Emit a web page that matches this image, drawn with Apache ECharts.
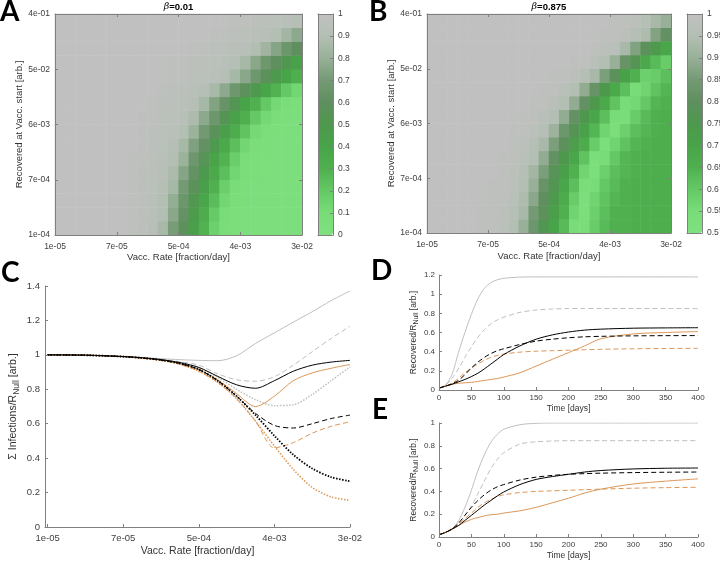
<!DOCTYPE html>
<html>
<head>
<meta charset="utf-8">
<script src="https://cdn.jsdelivr.net/npm/echarts@6/dist/echarts.min.js"></script>
<style>
  html, body { margin: 0; background: #fff; }
  #main { width: 720px; height: 562px; }
</style>
</head>
<body>
<div id="main"></div>
<script>
// tick labels
var rateTicks = ['1e-05', '7e-05', '5e-04', '4e-03', '3e-02']
var recTicks = ['1e-04', '7e-04', '6e-03', '5e-02', '4e-01']

// panel A (beta=0.01), rows from bottom (1e-04) to top (4e-01), 24 columns left->right
var heatA = [
  [1,1,1,1,1,0.99,0.99,0.98,0.96,0.93,0.86,0.71,0.58,0.43,0.29,0.16,0.08,0.06,0.05,0.05,0.05,0.05,0.05,0.05],
  [1,1,1,1,1,0.99,0.99,0.98,0.96,0.94,0.89,0.76,0.63,0.47,0.33,0.19,0.1,0.06,0.05,0.05,0.05,0.05,0.05,0.05],
  [1,1,1,1,1,0.99,0.99,0.98,0.97,0.94,0.9,0.79,0.66,0.52,0.38,0.25,0.13,0.08,0.06,0.05,0.05,0.05,0.05,0.05],
  [1,1,1,1,1,0.99,0.99,0.98,0.97,0.95,0.92,0.85,0.7,0.58,0.43,0.3,0.17,0.09,0.06,0.05,0.05,0.05,0.05,0.05],
  [1,1,1,1,1,0.99,0.99,0.98,0.97,0.96,0.93,0.87,0.75,0.63,0.49,0.36,0.24,0.13,0.08,0.06,0.05,0.05,0.05,0.05],
  [1,1,1,1,1,0.99,0.99,0.98,0.98,0.96,0.94,0.9,0.81,0.67,0.55,0.41,0.29,0.17,0.09,0.06,0.05,0.05,0.05,0.05],
  [1,1,1,1,1,0.99,0.99,0.99,0.98,0.97,0.95,0.92,0.85,0.73,0.62,0.49,0.36,0.24,0.13,0.08,0.06,0.05,0.05,0.05],
  [1,1,1,1,1,0.99,0.99,0.99,0.98,0.97,0.96,0.94,0.9,0.81,0.69,0.58,0.45,0.33,0.22,0.12,0.08,0.06,0.05,0.05],
  [1,1,1,1,1,1,0.99,0.99,0.98,0.98,0.97,0.95,0.93,0.87,0.77,0.66,0.54,0.42,0.31,0.2,0.12,0.08,0.06,0.05],
  [1,1,1,1,1,1,0.99,0.99,0.99,0.98,0.97,0.96,0.94,0.92,0.85,0.74,0.64,0.53,0.41,0.3,0.2,0.12,0.08,0.06],
  [1,1,1,1,1,1,1,0.99,0.99,0.99,0.98,0.97,0.96,0.94,0.92,0.86,0.77,0.67,0.58,0.49,0.39,0.29,0.2,0.13],
  [1,1,1,1,1,1,1,1,0.99,0.99,0.99,0.98,0.98,0.97,0.95,0.94,0.91,0.85,0.76,0.67,0.58,0.49,0.4,0.31],
  [1,1,1,1,1,1,1,1,1,0.99,0.99,0.98,0.98,0.97,0.96,0.95,0.94,0.91,0.85,0.76,0.67,0.6,0.51,0.42],
  [1,1,1,1,1,1,1,1,1,1,0.99,0.99,0.99,0.98,0.98,0.97,0.96,0.94,0.93,0.89,0.83,0.75,0.66,0.6],
  [1,1,1,1,1,1,1,1,1,1,1,1,1,0.99,0.99,0.98,0.98,0.97,0.96,0.94,0.93,0.9,0.84,0.77],
  [1,1,1,1,1,1,1,1,1,1,1,1,1,1,1,0.99,0.99,0.98,0.98,0.97,0.96,0.95,0.94,0.91]
]

// panel B (beta=0.875)
var heatB = [
  [1,1,1,1,1,0.99,0.99,0.98,0.95,0.9,0.83,0.76,0.7,0.63,0.55,0.54,0.59,0.63,0.65,0.65,0.66,0.66,0.66,0.66],
  [1,1,1,1,1,0.99,0.99,0.98,0.96,0.93,0.85,0.79,0.72,0.65,0.57,0.53,0.58,0.62,0.65,0.65,0.66,0.66,0.66,0.66],
  [1,1,1,1,1,1,0.99,0.99,0.97,0.94,0.88,0.8,0.74,0.67,0.59,0.52,0.57,0.61,0.64,0.65,0.66,0.66,0.66,0.66],
  [1,1,1,1,1,1,0.99,0.99,0.98,0.95,0.9,0.82,0.76,0.69,0.62,0.54,0.55,0.6,0.63,0.65,0.66,0.66,0.66,0.66],
  [1,1,1,1,1,1,1,0.99,0.98,0.96,0.92,0.86,0.78,0.72,0.65,0.57,0.52,0.58,0.62,0.64,0.65,0.66,0.66,0.66],
  [1,1,1,1,1,1,1,0.99,0.99,0.97,0.95,0.89,0.81,0.75,0.69,0.61,0.53,0.55,0.6,0.64,0.65,0.66,0.66,0.66],
  [1,1,1,1,1,1,1,1,0.99,0.98,0.96,0.93,0.86,0.79,0.73,0.67,0.59,0.52,0.57,0.61,0.64,0.65,0.66,0.66],
  [1,1,1,1,1,1,1,1,0.99,0.99,0.98,0.96,0.91,0.83,0.77,0.71,0.64,0.57,0.53,0.58,0.62,0.64,0.65,0.66],
  [1,1,1,1,1,1,1,1,1,0.99,0.99,0.97,0.95,0.89,0.81,0.75,0.69,0.62,0.55,0.54,0.59,0.63,0.65,0.66],
  [1,1,1,1,1,1,1,1,1,1,0.99,0.99,0.97,0.95,0.89,0.81,0.75,0.68,0.61,0.55,0.56,0.6,0.64,0.65],
  [1,1,1,1,1,1,1,1,1,1,1,0.99,0.99,0.97,0.95,0.89,0.82,0.75,0.68,0.62,0.55,0.57,0.61,0.64],
  [1,1,1,1,1,1,1,1,1,1,1,1,0.99,0.99,0.98,0.96,0.93,0.86,0.79,0.71,0.65,0.58,0.59,0.62],
  [1,1,1,1,1,1,1,1,1,1,1,1,1,1,0.99,0.99,0.97,0.95,0.9,0.82,0.77,0.68,0.63,0.59],
  [1,1,1,1,1,1,1,1,1,1,1,1,1,1,1,1,0.99,0.98,0.97,0.93,0.87,0.79,0.74,0.69],
  [1,1,1,1,1,1,1,1,1,1,1,1,1,1,1,1,1,0.99,0.99,0.98,0.96,0.94,0.87,0.81],
  [1,1,1,1,1,1,1,1,1,1,1,1,1,1,1,1,1,1,0.99,0.99,0.98,0.96,0.93,0.9]
]

// panel C, x in tick units (0 = 1e-05 ... 4 = 3e-02)
var cX = [0, 0.5, 1, 1.25, 1.5, 1.75, 2, 2.25, 2.5, 2.75, 3, 3.25, 3.5, 3.75, 4]
var cGraySolid = [1, 0.998, 0.99, 0.985, 0.978, 0.972, 0.968, 0.966, 0.995, 1.066, 1.128, 1.19, 1.25, 1.315, 1.371]
var cGrayDash = [1, 0.998, 0.99, 0.984, 0.975, 0.96, 0.94, 0.89, 0.855, 0.847, 0.873, 0.94, 1.018, 1.095, 1.167]
var cGrayDot = [1, 0.998, 0.99, 0.983, 0.972, 0.955, 0.925, 0.87, 0.8, 0.74, 0.705, 0.71, 0.77, 0.85, 0.93]
var cBlackSolid = [1, 0.998, 0.99, 0.983, 0.972, 0.955, 0.927, 0.875, 0.826, 0.806, 0.85, 0.905, 0.94, 0.958, 0.968]
var cBlackDash = [1, 0.998, 0.99, 0.982, 0.97, 0.95, 0.915, 0.85, 0.76, 0.66, 0.59, 0.575, 0.6, 0.63, 0.65]
var cBlackDot = [1, 0.998, 0.99, 0.982, 0.97, 0.95, 0.915, 0.85, 0.76, 0.65, 0.53, 0.42, 0.34, 0.29, 0.266]
var cOrangeSolid = [1, 0.998, 0.99, 0.982, 0.97, 0.95, 0.915, 0.855, 0.775, 0.7, 0.76, 0.85, 0.895, 0.922, 0.944]
var cOrangeDash = [1, 0.998, 0.99, 0.98, 0.968, 0.945, 0.905, 0.84, 0.745, 0.615, 0.46, 0.49, 0.545, 0.585, 0.611]
var cOrangeDot = [1, 0.998, 0.99, 0.98, 0.968, 0.945, 0.905, 0.84, 0.745, 0.615, 0.47, 0.335, 0.23, 0.175, 0.155]

// panels D and E, time in days
var tDays = [0, 10, 20, 30, 40, 50, 60, 70, 80, 90, 100, 125, 150, 175, 200, 225, 250, 300, 350, 400]
var dGraySolid = [0.02, 0.05, 0.16, 0.39, 0.6, 0.79, 0.95, 1.06, 1.12, 1.15, 1.165, 1.178, 1.18, 1.18, 1.18, 1.18, 1.18, 1.18, 1.18, 1.18]
var dGrayDash = [0.02, 0.05, 0.12, 0.22, 0.34, 0.45, 0.55, 0.63, 0.69, 0.73, 0.76, 0.81, 0.835, 0.845, 0.85, 0.85, 0.85, 0.85, 0.85, 0.85]
var dBlackSolid = [0.02, 0.04, 0.06, 0.085, 0.11, 0.14, 0.175, 0.22, 0.27, 0.32, 0.37, 0.46, 0.53, 0.575, 0.605, 0.625, 0.635, 0.645, 0.648, 0.65]
var dBlackDash = [0.02, 0.04, 0.065, 0.1, 0.16, 0.23, 0.29, 0.34, 0.38, 0.41, 0.43, 0.475, 0.51, 0.53, 0.545, 0.555, 0.56, 0.565, 0.567, 0.568]
var dOrangeSolid = [0.02, 0.04, 0.06, 0.07, 0.075, 0.08, 0.09, 0.1, 0.11, 0.12, 0.135, 0.18, 0.25, 0.32, 0.39, 0.46, 0.535, 0.585, 0.6, 0.61]
var dOrangeDash = [0.02, 0.04, 0.07, 0.12, 0.18, 0.23, 0.27, 0.31, 0.34, 0.36, 0.375, 0.395, 0.405, 0.41, 0.415, 0.42, 0.425, 0.43, 0.433, 0.435]
var eGraySolid = [0.02, 0.04, 0.07, 0.14, 0.26, 0.41, 0.58, 0.72, 0.83, 0.9, 0.945, 0.985, 0.997, 1, 1, 1, 1, 1, 1, 1]
var eGrayDash = [0.02, 0.04, 0.07, 0.12, 0.19, 0.27, 0.38, 0.49, 0.6, 0.68, 0.74, 0.815, 0.835, 0.842, 0.845, 0.845, 0.845, 0.845, 0.845, 0.845]
var eBlackSolid = [0.02, 0.04, 0.07, 0.1, 0.145, 0.19, 0.235, 0.28, 0.32, 0.36, 0.395, 0.46, 0.505, 0.53, 0.55, 0.57, 0.583, 0.597, 0.603, 0.605]
var eBlackDash = [0.02, 0.04, 0.07, 0.12, 0.19, 0.26, 0.32, 0.37, 0.41, 0.44, 0.46, 0.5, 0.525, 0.54, 0.55, 0.556, 0.56, 0.565, 0.568, 0.57]
var eOrangeSolid = [0.02, 0.04, 0.065, 0.1, 0.13, 0.155, 0.17, 0.185, 0.195, 0.2, 0.21, 0.23, 0.26, 0.3, 0.34, 0.385, 0.42, 0.465, 0.49, 0.51]
var eOrangeDash = [0.02, 0.04, 0.07, 0.11, 0.16, 0.21, 0.26, 0.3, 0.33, 0.355, 0.37, 0.39, 0.4, 0.405, 0.41, 0.415, 0.42, 0.428, 0.433, 0.436]

var FONT = 'Liberation Sans'
var axisGrey = '#808080'
var tickText = '#404040'
var gray = '#bfbfbf'
var orange = '#dc9656'
var cmap = ['#80e080', '#78dc78', '#64c864', '#50b050', '#48a448', '#4e984e', '#5f8f5f', '#749a74', '#98b098', '#b4bfb4', '#c0c0c0']

function merge (a, b) {
  for (var k in b) {
    if (b[k] && typeof b[k] === 'object' && !Array.isArray(b[k]) && a[k] && typeof a[k] === 'object') merge(a[k], b[k])
    else a[k] = b[k]
  }
  return a
}

function axis (gi, o) {
  return merge({
    type: 'value',
    gridIndex: gi,
    z: 5,
    axisLine: { show: true, onZero: false, lineStyle: { color: axisGrey, width: 1 } },
    axisTick: { show: true, inside: true, length: 3, lineStyle: { color: axisGrey } },
    axisLabel: { show: true, color: tickText, fontFamily: FONT, fontSize: 8.5, margin: 5 },
    splitLine: { show: false },
    nameTextStyle: { color: '#333', fontFamily: FONT, fontSize: 9.5 }
  }, o || {})
}

function heatData (rows) {
  var out = []
  rows.forEach(function (row, j) {
    row.forEach(function (v, i) { out.push([i, j, v]) })
  })
  return out
}

function line (ai, xs, ys, color, dash, width) {
  return {
    type: 'line',
    xAxisIndex: ai,
    yAxisIndex: ai,
    data: xs.map(function (x, i) { return [x, ys[i]] }),
    symbol: 'none',
    smooth: 0.3,
    silent: true,
    lineStyle: { color: color, width: width || 1, type: dash || 'solid' }
  }
}

var colIdx = heatA[0].map(function (_, i) { return i })
var rowIdx = heatA.map(function (_, j) { return j })

var rectA = { left: 55, top: 14, width: 247, height: 221 }
var rectAc = { left: 318, top: 14, width: 15, height: 221 }
var rectB = { left: 427, top: 14, width: 244, height: 219 }
var rectBc = { left: 687, top: 14, width: 15, height: 219 }
var rectC = { left: 45, top: 286, width: 305, height: 241 }
var rectD = { left: 439, top: 275, width: 259, height: 115 }
var rectE = { left: 439, top: 423, width: 259, height: 114 }

function grid (r) {
  return merge({ containLabel: false, outerBoundsMode: 'none', show: false }, r)
}

var DASH = [5, 3]
var DOT = [1.5, 1.5]

function yName (txt, size, sub) {
  return {
    name: '{n|' + txt + '}{s|Null}{n| [arb.]}',
    nameTextStyle: {
      rich: {
        n: { fontSize: size, fontFamily: FONT, color: '#333' },
        s: { fontSize: sub, fontFamily: FONT, color: '#333', lineHeight: sub, padding: [6, 0, 0, 0] }
      }
    }
  }
}

var option = {
  animation: false,
  backgroundColor: '#fff',
  grid: [
    grid(rectA), grid(rectA), grid(rectAc),
    grid(rectB), grid(rectB), grid(rectBc),
    grid(rectC), grid(rectD), grid(rectE)
  ],
  xAxis: [
    { type: 'category', gridIndex: 0, data: colIdx, show: false },
    axis(1, { min: 0, max: 4, interval: 1, position: 'bottom', axisLabel: { formatter: function (v) { return rateTicks[v] }, margin: 7 },
      name: 'Vacc. Rate [fraction/day]', nameLocation: 'middle', nameGap: 17 }),
    axis(1, { min: 0, max: 4, interval: 1, position: 'top', axisLabel: { show: false } }),
    axis(2, { min: 0, max: 1, position: 'bottom', axisTick: { show: false }, axisLabel: { show: false } }),
    axis(2, { min: 0, max: 1, position: 'top', axisTick: { show: false }, axisLabel: { show: false } }),
    { type: 'category', gridIndex: 3, data: colIdx, show: false },
    axis(4, { min: 0, max: 4, interval: 1, position: 'bottom', axisLabel: { formatter: function (v) { return rateTicks[v] }, margin: 7 },
      name: 'Vacc. Rate [fraction/day]', nameLocation: 'middle', nameGap: 18 }),
    axis(4, { min: 0, max: 4, interval: 1, position: 'top', axisLabel: { show: false } }),
    axis(5, { min: 0, max: 1, position: 'bottom', axisTick: { show: false }, axisLabel: { show: false } }),
    axis(5, { min: 0, max: 1, position: 'top', axisTick: { show: false }, axisLabel: { show: false } }),
    axis(6, { min: -0.035, max: 4, position: 'bottom',
      axisTick: { customValues: [0, 1, 2, 3, 4] },
      axisLabel: { customValues: [0, 1, 2, 3, 4], formatter: function (v) { return rateTicks[Math.round(v)] }, fontSize: 9.5, margin: 6 },
      name: 'Vacc. Rate [fraction/day]', nameLocation: 'middle', nameGap: 19, nameTextStyle: { fontSize: 10.5 } }),
    axis(7, { min: 0, max: 400, interval: 50, position: 'bottom', axisLabel: { fontSize: 8, margin: 4 },
      name: 'Time [days]', nameLocation: 'middle', nameGap: 14, nameTextStyle: { fontSize: 8.5 } }),
    axis(8, { min: 0, max: 400, interval: 50, position: 'bottom', axisLabel: { fontSize: 8, margin: 4 },
      name: 'Time [days]', nameLocation: 'middle', nameGap: 14, nameTextStyle: { fontSize: 8.5 } })
  ],
  yAxis: [
    { type: 'category', gridIndex: 0, data: rowIdx, show: false },
    axis(1, { min: 0, max: 4, interval: 1, position: 'left', axisLabel: { formatter: function (v) { return recTicks[v] } },
      name: 'Recovered at Vacc. start [arb.]', nameLocation: 'middle', nameGap: 28 }),
    axis(1, { min: 0, max: 4, interval: 1, position: 'right', axisLabel: { show: false } }),
    axis(2, { min: 0, max: 1, position: 'left', axisTick: { show: false }, axisLabel: { show: false } }),
    axis(2, { min: 0, max: 1, interval: 0.1, position: 'right', axisLabel: { margin: 5 } }),
    { type: 'category', gridIndex: 3, data: rowIdx, show: false },
    axis(4, { min: 0, max: 4, interval: 1, position: 'left', axisLabel: { formatter: function (v) { return recTicks[v] } },
      name: 'Recovered at Vacc. start [arb.]', nameLocation: 'middle', nameGap: 28 }),
    axis(4, { min: 0, max: 4, interval: 1, position: 'right', axisLabel: { show: false } }),
    axis(5, { min: 0.5, max: 1, position: 'left', axisTick: { show: false }, axisLabel: { show: false } }),
    axis(5, { min: 0.5, max: 1, interval: 0.05, position: 'right', axisLabel: { margin: 5 } }),
    axis(6, merge({ min: 0, max: 1.4, interval: 0.2, position: 'left', axisLabel: { fontSize: 9.5, margin: 5 },
      nameLocation: 'middle', nameGap: 26 }, yName('Σ Infections/R', 10.5, 8.5))),
    axis(7, merge({ min: 0, max: 1.2, interval: 0.2, position: 'left', axisLabel: { fontSize: 8, margin: 4 },
      nameLocation: 'middle', nameGap: 17 }, yName('Recovered/R', 8.5, 7))),
    axis(8, merge({ min: 0, max: 1, interval: 0.2, position: 'left', axisLabel: { fontSize: 8, margin: 4 },
      nameLocation: 'middle', nameGap: 17 }, yName('Recovered/R', 8.5, 7)))
  ],
  visualMap: [
    { type: 'continuous', seriesIndex: 0, min: 0, max: 1, inRange: { color: cmap }, show: true, calculable: false,
      hoverLink: false, itemWidth: rectAc.width, itemHeight: rectAc.height, left: rectAc.left, top: rectAc.top, padding: 0 },
    { type: 'continuous', seriesIndex: 1, min: 0.5, max: 1, inRange: { color: cmap }, show: true, calculable: false,
      hoverLink: false, itemWidth: rectBc.width, itemHeight: rectBc.height, left: rectBc.left, top: rectBc.top, padding: 0 }
  ],
  series: [
    { type: 'heatmap', xAxisIndex: 0, yAxisIndex: 0, data: heatData(heatA), silent: true, emphasis: { disabled: true }, itemStyle: { borderWidth: 0 } },
    { type: 'heatmap', xAxisIndex: 5, yAxisIndex: 5, data: heatData(heatB), silent: true, emphasis: { disabled: true }, itemStyle: { borderWidth: 0 } },
    line(10, cX, cGraySolid, gray),
    line(10, cX, cGrayDash, gray, DASH),
    line(10, cX, cGrayDot, gray, DOT, 1.5),
    line(10, cX, cOrangeSolid, orange),
    line(10, cX, cOrangeDash, orange, DASH),
    line(10, cX, cOrangeDot, orange, DOT, 1.5),
    line(10, cX, cBlackSolid, '#000'),
    line(10, cX, cBlackDash, '#000', DASH),
    line(10, cX, cBlackDot, '#000', DOT, 1.8),
    line(11, tDays, dGraySolid, gray),
    line(11, tDays, dGrayDash, gray, DASH),
    line(11, tDays, dOrangeSolid, orange),
    line(11, tDays, dOrangeDash, orange, DASH),
    line(11, tDays, dBlackSolid, '#000'),
    line(11, tDays, dBlackDash, '#000', DASH),
    line(12, tDays, eGraySolid, gray),
    line(12, tDays, eGrayDash, gray, DASH),
    line(12, tDays, eOrangeSolid, orange),
    line(12, tDays, eOrangeDash, orange, DASH),
    line(12, tDays, eBlackSolid, '#000'),
    line(12, tDays, eBlackDash, '#000', DASH)
  ],
  graphic: [
    { type: 'text', x: 0, y: 12, style: { text: 'A', font: 'bold 28px Lato', fill: '#000', verticalAlign: 'middle' } },
    { type: 'text', x: 369, y: 12, style: { text: 'B', font: 'bold 28px Lato', fill: '#000', verticalAlign: 'middle' } },
    { type: 'text', x: 1, y: 273, style: { text: 'C', font: 'bold 28px Lato', fill: '#000', verticalAlign: 'middle' } },
    { type: 'text', x: 371, y: 271, style: { text: 'D', font: 'bold 28px Lato', fill: '#000', verticalAlign: 'middle' } },
    { type: 'text', x: 372, y: 410, style: { text: 'E', font: 'bold 28px Lato', fill: '#000', verticalAlign: 'middle' } },
    { type: 'text', x: 178.5, y: 7, style: { text: '{i|β}{b|=0.01}', align: 'center', verticalAlign: 'middle',
      rich: { i: { fontFamily: 'DejaVu Serif', fontStyle: 'italic', fontSize: 9.5, fill: '#000' }, b: { fontFamily: FONT, fontWeight: 'bold', fontSize: 9.5, fill: '#000' } } } },
    { type: 'text', x: 549, y: 7, style: { text: '{i|β}{b|=0.875}', align: 'center', verticalAlign: 'middle',
      rich: { i: { fontFamily: 'DejaVu Serif', fontStyle: 'italic', fontSize: 9.5, fill: '#000' }, b: { fontFamily: FONT, fontWeight: 'bold', fontSize: 9.5, fill: '#000' } } } }
  ]
}

var chart = echarts.init(document.getElementById('main'))
chart.setOption(option)
</script>
</body>
</html>
